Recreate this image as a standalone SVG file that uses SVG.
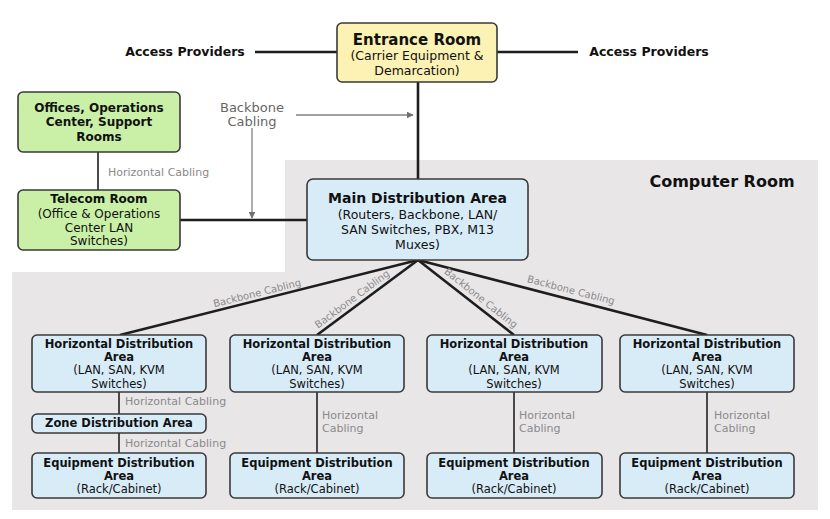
<svg xmlns="http://www.w3.org/2000/svg" width="830" height="519" viewBox="0 0 830 519">
<style>
text{font-family:"DejaVu Sans","Liberation Sans",sans-serif;text-anchor:middle;fill:#111}
.b{font-weight:bold}
.box{stroke:#3a3a3a;stroke-width:1.6}
.blue{fill:#d8ecf8}
.green{fill:#c9f0a6}
.yellow{fill:#fbf2b4}
.t11{font-size:11.5px}
.lbl{fill:#8a8a8a;font-size:11px}
.lblb{fill:#8a8a8a;font-size:10px}
.thick{stroke:#1e1e1e;stroke-width:2.6;fill:none}
.thin{stroke:#4a4a4a;stroke-width:2;fill:none}
.gray{stroke:#808080;stroke-width:1.3;fill:none}
</style>
<defs>
<marker id="ah" viewBox="0 0 10 10" refX="9" refY="5" markerWidth="7" markerHeight="7" markerUnits="userSpaceOnUse" orient="auto">
<path d="M0,0 L10,5 L0,10 z" fill="#707070"/>
</marker>
</defs>
<rect width="830" height="519" fill="#ffffff"/>
<g id="computer-room">
<polygon points="285,160 818,160 818,510 12,510 12,272 285,272" fill="#e9e6e8"/>
<text class="b" x="722" y="187" style="font-size:16px">Computer Room</text>
</g>
<g id="connectors">
<line class="thick" x1="255" y1="52" x2="337" y2="52"/>
<line class="thick" x1="497" y1="52" x2="578" y2="52"/>
<line class="thick" x1="418" y1="82" x2="418" y2="179"/>
<line class="thin" x1="98" y1="152" x2="98" y2="190"/>
<line class="thick" x1="180" y1="220" x2="307" y2="220"/>
<line class="gray" x1="296" y1="115" x2="413" y2="115" marker-end="url(#ah)"/>
<line class="gray" x1="252" y1="128" x2="252" y2="218" marker-end="url(#ah)"/>
<line class="thick" x1="418" y1="260" x2="120" y2="335"/>
<line class="thick" x1="418" y1="260" x2="317" y2="335"/>
<line class="thick" x1="418" y1="260" x2="514" y2="335"/>
<line class="thick" x1="418" y1="260" x2="707" y2="335"/>
<line class="thin" x1="119" y1="392" x2="119" y2="414"/>
<line class="thin" x1="119" y1="433" x2="119" y2="453"/>
<line class="thin" x1="317" y1="392" x2="317" y2="453"/>
<line class="thin" x1="514" y1="392" x2="514" y2="453"/>
<line class="thin" x1="707" y1="392" x2="707" y2="453"/>
<text class="lbl" x="108" y="176" style="text-anchor:start">Horizontal Cabling</text>
<text x="252" y="112" style="fill:#666;font-size:13px">Backbone</text>
<text x="252" y="126" style="fill:#666;font-size:13px">Cabling</text>
<text class="lblb" transform="translate(257,293) rotate(-14.1)" y="3.5">Backbone Cabling</text>
<text class="lblb" transform="translate(352,299) rotate(-36.6)" y="3.5">Backbone Cabling</text>
<text class="lblb" transform="translate(481,298) rotate(38.3)" y="3.5">Backbone Cabling</text>
<text class="lblb" transform="translate(571,290) rotate(14.5)" y="3.5">Backbone Cabling</text>
<text class="lbl" x="125" y="405" style="text-anchor:start">Horizontal Cabling</text>
<text class="lbl" x="125" y="447" style="text-anchor:start">Horizontal Cabling</text>
<text class="lbl" x="322" y="419" style="text-anchor:start">Horizontal</text>
<text class="lbl" x="322" y="432" style="text-anchor:start">Cabling</text>
<text class="lbl" x="519" y="419" style="text-anchor:start">Horizontal</text>
<text class="lbl" x="519" y="432" style="text-anchor:start">Cabling</text>
<text class="lbl" x="714" y="419" style="text-anchor:start">Horizontal</text>
<text class="lbl" x="714" y="432" style="text-anchor:start">Cabling</text>
</g>
<g id="access-left"><text class="b" x="185" y="56" style="font-size:12.5px">Access Providers</text></g>
<g id="access-right"><text class="b" x="649" y="56" style="font-size:12.5px">Access Providers</text></g>
<g id="entrance-room">
<rect class="box yellow" x="337" y="23" width="160" height="59" rx="5"/>
<text class="b" x="417" y="45" style="font-size:15px">Entrance Room</text>
<text x="417" y="60" style="font-size:12.5px">(Carrier Equipment &amp;</text>
<text x="417" y="75" style="font-size:12.5px">Demarcation)</text>
</g>
<g id="offices">
<rect class="box green" x="18" y="92" width="162" height="60" rx="5"/>
<text class="b" x="99" y="112" style="font-size:12px">Offices, Operations</text>
<text class="b" x="99" y="126" style="font-size:12px">Center, Support</text>
<text class="b" x="99" y="141" style="font-size:12px">Rooms</text>
</g>
<g id="telecom-room">
<rect class="box green" x="18" y="190" width="162" height="60" rx="5"/>
<text class="b" x="99" y="203" style="font-size:12px">Telecom Room</text>
<text x="99" y="218" style="font-size:12px">(Office &amp; Operations</text>
<text x="99" y="232" style="font-size:12px">Center LAN</text>
<text x="99" y="245" style="font-size:12px">Switches)</text>
</g>
<g id="mda">
<rect class="box blue" x="307" y="179" width="221" height="81" rx="6"/>
<text class="b" x="417.5" y="203" style="font-size:14px">Main Distribution Area</text>
<text x="417.5" y="219" style="font-size:12.5px">(Routers, Backbone, LAN/</text>
<text x="417.5" y="234" style="font-size:12.5px">SAN Switches, PBX, M13</text>
<text x="417.5" y="249" style="font-size:12.5px">Muxes)</text>
</g>
<g id="hda1">
<rect class="box blue" x="32" y="335" width="174" height="57" rx="5"/>
<text class="b t11" x="119" y="348">Horizontal Distribution</text>
<text class="b t11" x="119" y="361">Area</text>
<text class="t11" x="119" y="374">(LAN, SAN, KVM</text>
<text class="t11" x="119" y="388">Switches)</text>
</g>
<g id="hda2">
<rect class="box blue" x="230" y="335" width="174" height="57" rx="5"/>
<text class="b t11" x="317" y="348">Horizontal Distribution</text>
<text class="b t11" x="317" y="361">Area</text>
<text class="t11" x="317" y="374">(LAN, SAN, KVM</text>
<text class="t11" x="317" y="388">Switches)</text>
</g>
<g id="hda3">
<rect class="box blue" x="427" y="335" width="175" height="57" rx="5"/>
<text class="b t11" x="514" y="348">Horizontal Distribution</text>
<text class="b t11" x="514" y="361">Area</text>
<text class="t11" x="514" y="374">(LAN, SAN, KVM</text>
<text class="t11" x="514" y="388">Switches)</text>
</g>
<g id="hda4">
<rect class="box blue" x="620" y="335" width="174" height="57" rx="5"/>
<text class="b t11" x="707" y="348">Horizontal Distribution</text>
<text class="b t11" x="707" y="361">Area</text>
<text class="t11" x="707" y="374">(LAN, SAN, KVM</text>
<text class="t11" x="707" y="388">Switches)</text>
</g>
<g id="zda">
<rect class="box blue" x="32" y="414" width="174" height="19" rx="5"/>
<text class="b t11" x="119" y="427">Zone Distribution Area</text>
</g>
<g id="eda1">
<rect class="box blue" x="32" y="453" width="174" height="45" rx="5"/>
<text class="b t11" x="119" y="467">Equipment Distribution</text>
<text class="b t11" x="119" y="480">Area</text>
<text class="t11" x="119" y="493">(Rack/Cabinet)</text>
</g>
<g id="eda2">
<rect class="box blue" x="230" y="453" width="174" height="45" rx="5"/>
<text class="b t11" x="317" y="467">Equipment Distribution</text>
<text class="b t11" x="317" y="480">Area</text>
<text class="t11" x="317" y="493">(Rack/Cabinet)</text>
</g>
<g id="eda3">
<rect class="box blue" x="427" y="453" width="175" height="45" rx="5"/>
<text class="b t11" x="514" y="467">Equipment Distribution</text>
<text class="b t11" x="514" y="480">Area</text>
<text class="t11" x="514" y="493">(Rack/Cabinet)</text>
</g>
<g id="eda4">
<rect class="box blue" x="620" y="453" width="174" height="45" rx="5"/>
<text class="b t11" x="707" y="467">Equipment Distribution</text>
<text class="b t11" x="707" y="480">Area</text>
<text class="t11" x="707" y="493">(Rack/Cabinet)</text>
</g>
</svg>
